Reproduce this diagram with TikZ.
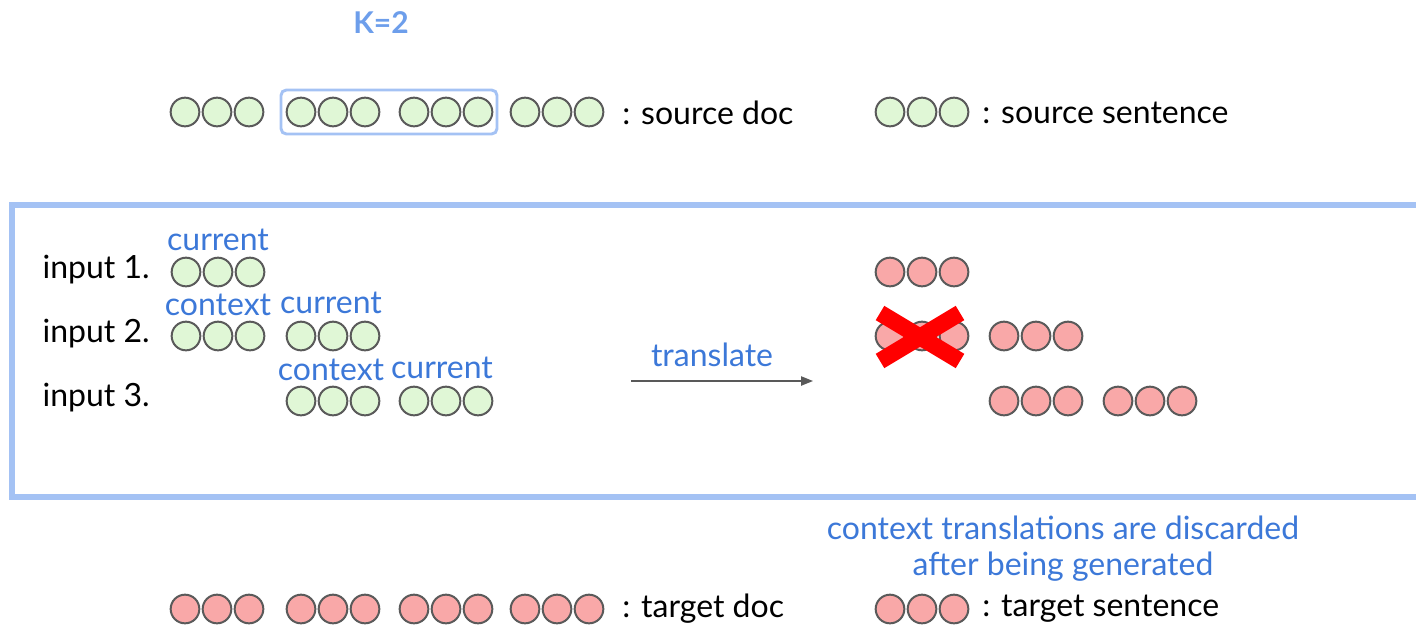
\documentclass[tikz,border=0pt]{standalone}
\usepackage{fontspec}
\setmainfont{Lato}
\usetikzlibrary{arrows.meta}
\definecolor{greenfill}{HTML}{E0F7D6}
\definecolor{redfill}{HTML}{F9A8A8}
\definecolor{rim}{HTML}{5A5A5A}
\definecolor{labelblue}{HTML}{3C78D8}
\definecolor{kblue}{HTML}{6D9EEB}
\definecolor{frameblue}{HTML}{A4C2F4}
\definecolor{arrowgray}{HTML}{595959}
\tikzset{
  x=0.75pt, y=-0.75pt,
  dot/.style={circle, draw=rim, line width=1.5pt, minimum size=21.5pt, inner sep=0pt},
  src/.style={dot, fill=greenfill},
  tgt/.style={dot, fill=redfill},
  txt/.style={font=\fontsize{24}{28}\selectfont, text=black, inner sep=0pt},
  tag/.style={font=\fontsize{24}{28}\selectfont, text=labelblue, inner sep=0pt},
  frame/.style={draw=frameblue, line width=3.8pt},
  window/.style={draw=frameblue, line width=2.2pt, rounded corners=4pt},
  cross/.style={draw=red, line width=12.5pt},
  flow/.style={draw=arrowgray, line width=1pt, -{Triangle[length=9pt,width=7pt]}}
}
% three sentence circles named #1-1, #1-2, #1-3, first centre at (#2,#3)
\newcommand\sentdots[4]{%
  \foreach \k in {1,2,3}{%
    \node[#4] (#1-\k) at ({#2+32*(\k-1)},#3) {};
  }%
}
\begin{document}
\begin{tikzpicture}
\useasboundingbox (0,0) rectangle (1416,625);

% source document and legend
\node[font=\fontsize{22.5}{26}\selectfont\bfseries, text=kblue, inner sep=0pt] (k) at (381,23) {K=2};
\draw[window] (281,90) rectangle (497,134);
\sentdots{sa}{185}{112}{src}
\sentdots{sb}{301}{112}{src}
\sentdots{sc}{414}{112}{src}
\sentdots{sd}{525}{112}{src}
\node[txt, anchor=west] (srcdoc) at (622,113) {: source doc};
\sentdots{sl}{890}{112}{src}
\node[txt, anchor=west] (srcsent) at (982,113) {: source sentence};

% frame around the translation steps
\draw[frame] (1440,205) -- (12,205) -- (12,497) -- (1440,497);

% inputs
\node[txt, anchor=east] (in1) at (150,270) {input 1.};
\node[txt, anchor=east] (in2) at (150,334) {input 2.};
\node[txt, anchor=east] (in3) at (150,398) {input 3.};

\sentdots{ia}{186}{272}{src}
\node[tag] (cur1) at (218,240) {current};

\sentdots{ib}{186}{336}{src}
\sentdots{ic}{301}{336}{src}
\node[tag] (ctx2) at (218,305) {context};
\node[tag] (cur2) at (331,303) {current};

\sentdots{id}{301}{401}{src}
\node[tag] (ctx3) at (331,370) {context};
\sentdots{ie}{414}{401}{src}
\node[tag] (cur3) at (442,368) {current};

% translate arrow
\coordinate (t0) at (631,381);
\coordinate (t1) at (813,381);
\draw[flow] (t0) -- (t1);
\node[tag] (trans) at (712,355) {translate};

% outputs
\sentdots{oa}{890}{272}{tgt}
\sentdots{ob}{890}{336}{tgt}
\sentdots{oc}{1004}{336}{tgt}
\sentdots{od}{1004}{401}{tgt}
\sentdots{oe}{1118}{401}{tgt}

% discarded context translation
\coordinate (x1) at (880,313);
\coordinate (x2) at (960,361);
\coordinate (x3) at (880,361);
\coordinate (x4) at (960,313);
\draw[cross] (x1) -- (x2);
\draw[cross] (x3) -- (x4);

% note and target legend
\node[tag] (note1) at (1063,528) {context translations are discarded};
\node[tag] (note2) at (1063,567) {after being generated};

\sentdots{ta}{185}{609}{tgt}
\sentdots{tb}{301}{609}{tgt}
\sentdots{tc}{414}{609}{tgt}
\sentdots{td}{525}{609}{tgt}
\node[txt, anchor=west] (tgtdoc) at (622,609) {: target doc};
\sentdots{tl}{890}{609}{tgt}
\node[txt, anchor=west] (tgtsent) at (982,609) {: target sentence};
\end{tikzpicture}
\end{document}
